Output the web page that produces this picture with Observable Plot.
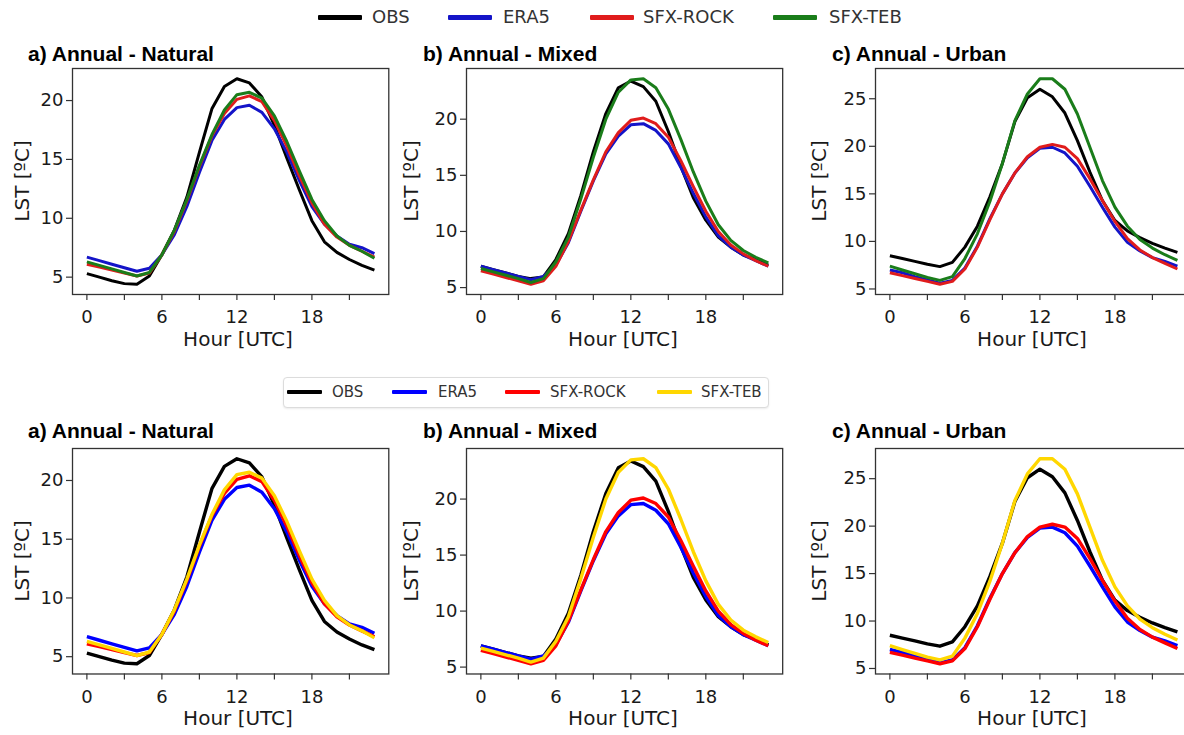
<!DOCTYPE html>
<html><head><meta charset="utf-8">
<script src="https://cdn.jsdelivr.net/npm/d3@7"></script>
<script src="https://cdn.jsdelivr.net/npm/@observablehq/plot@0.6"></script>
<style>
html,body{margin:0;padding:0;background:#fff;overflow:hidden;}
#fig{position:relative;width:1184px;height:735px;overflow:hidden;}
.abs{position:absolute;white-space:nowrap;line-height:1;}
.title{font-family:"Liberation Sans",Arial,sans-serif;font-weight:bold;font-size:21px;color:#000;transform:translateY(-50%);}
.axlab{font-family:"DejaVu Sans",sans-serif;font-size:20px;color:#1a1a1a;transform:translate(-50%,-50%);}
.ylab{font-family:"DejaVu Sans",sans-serif;font-size:20px;color:#1a1a1a;transform:translate(-50%,-50%) rotate(-90deg);}
.leg{font-family:"DejaVu Sans",sans-serif;color:#333;transform:translateY(-50%);}
.sw{position:absolute;}
.legbox{position:absolute;border:1.5px solid #dcdcdc;border-radius:4px;box-shadow:0 1px 2px rgba(0,0,0,0.08);background:#fff;}
svg{position:absolute;}
</style></head><body><div id="fig"></div>
<script>
// ---------------- data ----------------
const hours = d3.range(0, 24);
const seriesNames = ["OBS", "ERA5", "SFX-ROCK", "SFX-TEB"];
const panelTitles = ["a) Annual - Natural", "b) Annual - Mixed", "c) Annual - Urban"];
const xTickValues = [0, 3, 6, 9, 12, 15, 18, 21];
const yTicksNatural = [5, 10, 15, 20];
const yTicksMixed = [5, 10, 15, 20];
const yTicksUrban = [5, 10, 15, 20, 25];
const xLabel = "Hour [UTC]";
const yLabel = "LST [ºC]";

const natOBS  = [5.3, 5.0, 4.7, 4.45, 4.4, 5.1, 6.9, 9.0, 11.8, 15.6, 19.3, 21.2, 21.85, 21.5, 20.3, 17.9, 15.1, 12.4, 9.8, 8.0, 7.1, 6.5, 6.0, 5.6];
const natERA5 = [6.7, 6.4, 6.1, 5.8, 5.5, 5.75, 6.9, 8.6, 11.0, 13.9, 16.6, 18.4, 19.4, 19.6, 19.0, 17.6, 15.6, 13.2, 11.0, 9.5, 8.5, 7.8, 7.5, 7.0];
const natROCK = [6.1, 5.85, 5.6, 5.35, 5.1, 5.35, 6.9, 8.9, 11.5, 14.4, 17.0, 18.9, 20.1, 20.4, 19.9, 18.3, 16.1, 13.6, 11.3, 9.5, 8.4, 7.7, 7.2, 6.7];
const natTEB  = [6.3, 6.0, 5.7, 5.4, 5.1, 5.4, 6.9, 9.0, 11.6, 14.5, 17.1, 19.2, 20.5, 20.7, 20.2, 18.7, 16.5, 14.0, 11.6, 9.8, 8.5, 7.7, 7.2, 6.6];

const mixOBS  = [6.9, 6.6, 6.3, 6.0, 5.8, 5.95, 7.5, 9.8, 13.2, 17.1, 20.5, 22.8, 23.4, 22.9, 21.6, 18.9, 15.8, 13.0, 11.0, 9.5, 8.6, 7.9, 7.5, 7.0];
const mixERA5 = [6.9, 6.6, 6.3, 6.0, 5.7, 6.0, 7.0, 9.0, 11.8, 14.5, 16.9, 18.5, 19.5, 19.6, 19.0, 17.8, 15.7, 13.4, 11.3, 9.6, 8.6, 7.9, 7.4, 6.9];
const mixROCK = [6.5, 6.2, 5.9, 5.6, 5.3, 5.6, 6.9, 9.1, 11.9, 14.6, 17.1, 18.8, 19.9, 20.1, 19.6, 18.4, 16.3, 14.0, 11.8, 10.0, 8.8, 8.0, 7.4, 6.9];
const mixTEB  = [6.7, 6.4, 6.1, 5.8, 5.45, 5.8, 7.3, 9.5, 12.9, 16.6, 20.0, 22.4, 23.5, 23.6, 22.8, 20.9, 18.2, 15.3, 12.7, 10.6, 9.2, 8.3, 7.7, 7.2];

const urbOBS  = [8.5, 8.2, 7.9, 7.6, 7.35, 7.8, 9.4, 11.6, 14.7, 18.2, 22.6, 25.1, 26.0, 25.2, 23.5, 20.6, 17.3, 14.3, 12.2, 11.1, 10.4, 9.8, 9.3, 8.85];
const urbERA5 = [7.0, 6.7, 6.3, 5.95, 5.6, 5.9, 7.2, 9.5, 12.4, 15.0, 17.2, 18.8, 19.8, 19.9, 19.3, 17.9, 15.8, 13.6, 11.5, 9.9, 9.0, 8.3, 7.9, 7.4];
const urbROCK = [6.7, 6.4, 6.1, 5.8, 5.5, 5.8, 7.1, 9.4, 12.3, 15.0, 17.2, 18.9, 19.9, 20.2, 19.9, 18.7, 16.6, 14.3, 12.1, 10.3, 9.1, 8.3, 7.7, 7.1];
const urbTEB  = [7.4, 7.0, 6.6, 6.2, 5.9, 6.3, 8.2, 10.8, 14.2, 18.2, 22.7, 25.5, 27.1, 27.1, 26.0, 23.4, 19.9, 16.4, 13.6, 11.6, 10.2, 9.3, 8.6, 8.0];

const colorsTop = ["#000000", "#1414c8", "#e01c1c", "#1a7d1a"];
const colorsBottom = ["#000000", "#0000ff", "#ff0000", "#ffd700"];

// ---------------- layout ----------------
const fig = document.getElementById("fig");
function el(cls, text, css) {
  const d = document.createElement("div");
  d.className = "abs " + cls;
  if (text != null) d.textContent = text;
  Object.assign(d.style, css);
  fig.appendChild(d);
  return d;
}

const panelsData = [
  {vals: [natOBS, natERA5, natROCK, natTEB], yTicks: yTicksNatural},
  {vals: [mixOBS, mixERA5, mixROCK, mixTEB], yTicks: yTicksMixed},
  {vals: [urbOBS, urbERA5, urbROCK, urbTEB], yTicks: yTicksUrban}
];

const frameX = [[72, 388.3], [466.4, 782.6], [875.3, 1191.6]];
const titleX = [28, 423, 832];
const xLabX = [238, 623, 1032];
const yLabX = [22, 411, 819];

const rows = [
  {fy: [68, 294], colors: colorsTop, sw: 3, titleY: 53, xLabY: 339},
  {fy: [448, 673.5], colors: colorsBottom, sw: 3.4, titleY: 430, xLabY: 718}
];

function padExtent(arr) {
  const [a, b] = d3.extent(arr);
  const p = (b - a) * 0.05;
  return [a - p, b + p];
}

const ML = 70, MR = 10, MT = 10, MB = 50;

rows.forEach((row, ri) => {
  panelsData.forEach((pd, pi) => {
    const [fx0, fx1] = frameX[pi];
    const [fy0, fy1] = row.fy;
    const table = [];
    pd.vals.forEach((v, si) => v.forEach((y, h) => table.push({hour: hours[h], value: y, series: seriesNames[si]})));
    const svg = Plot.plot({
      width: fx1 - fx0 + ML + MR,
      height: fy1 - fy0 + MT + MB,
      marginLeft: ML, marginRight: MR, marginTop: MT, marginBottom: MB,
      style: {fontFamily: "DejaVu Sans", fontSize: "18px", color: "#1a1a1a", background: "transparent", overflow: "visible"},
      x: {domain: padExtent(hours)},
      y: {domain: padExtent(pd.vals.flat())},
      marks: [
        ...seriesNames.map((s, si) => Plot.line(table.filter(d => d.series === s), {
          x: "hour", y: "value", stroke: row.colors[si], strokeWidth: row.sw, strokeLinejoin: "round", strokeLinecap: "butt"
        })),
        Plot.frame({stroke: "#333", strokeWidth: 1.3}),
        Plot.axisX({ticks: xTickValues, tickFormat: d => d % 6 === 0 ? String(d) : "", tickSize: 6, tickPadding: 10, label: null, strokeWidth: 1.2, stroke: "#333"}),
        Plot.axisY({ticks: pd.yTicks, tickSize: 6, tickPadding: 3, label: null, strokeWidth: 1.2, stroke: "#333"})
      ]
    });
    svg.style.left = (fx0 - ML) + "px";
    svg.style.top = (fy0 - MT) + "px";
    fig.appendChild(svg);

    el("title", panelTitles[pi], {left: titleX[pi] + "px", top: row.titleY + "px"});
    el("axlab", xLabel, {left: xLabX[pi] + "px", top: row.xLabY + "px"});
    el("ylab", yLabel, {left: yLabX[pi] + "px", top: ((fy0 + fy1) / 2) + "px"});
  });
});

// ---------------- legends ----------------
// top legend
const topLeg = {swX: [318, 448, 590, 773], swW: 44, txtX: [372, 503, 643, 829], y: 17, fs: 18, th: 5};
// bottom legend
const botLeg = {swX: [287, 392, 505, 657], swW: 35, txtX: [332, 438, 550, 701], y: 392, fs: 15, th: 4.5};

const lb = document.createElement("div");
lb.className = "legbox";
Object.assign(lb.style, {left: "283px", top: "377px", width: "484px", height: "29px"});
fig.appendChild(lb);

[[topLeg, colorsTop], [botLeg, colorsBottom]].forEach(([L, cols]) => {
  seriesNames.forEach((s, i) => {
    const sw = document.createElement("div");
    sw.className = "sw";
    Object.assign(sw.style, {left: L.swX[i] + "px", top: (L.y - L.th / 2) + "px", width: L.swW + "px", height: L.th + "px", background: cols[i], borderRadius: "1px"});
    fig.appendChild(sw);
    el("leg", s, {left: L.txtX[i] + "px", top: L.y + "px", fontSize: L.fs + "px"});
  });
});
</script></body></html>
